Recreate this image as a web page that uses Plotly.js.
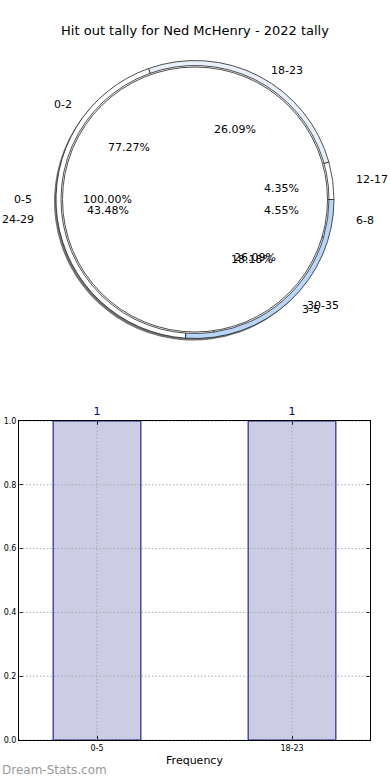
<!DOCTYPE html>
<html>
<head>
<meta charset="utf-8">
<script src="https://cdn.plot.ly/plotly-3.0.1.min.js"></script>
<style>html,body{margin:0;padding:0;background:#fff;}#chart{width:390px;height:780px;}</style>
</head>
<body>
<div id="chart"></div>
<script>
// ---- data ----
const chartTitle = 'Hit out tally for Ned McHenry - 2022 tally';
const pieALabels = ['0-5'];
const pieAValues = [1];
const pieBLabels = ['12-17', '18-23', '24-29', '30-35'];
const pieBValues = [1, 6, 10, 6];
const pieCLabels = ['0-2', '3-5', '6-8'];
const pieCValues = [17, 4, 1];
const barCategories = ['0-5', '18-23'];
const barValues = [1, 1];
const yTicks = [0, 0.2, 0.4, 0.6, 0.8, 1.0];

// ---- layout helpers ----
const W = 390, H = 780;
const cx = 195, cy = 199.5;
const rx = 146, ry = 132; // label ellipse (matches reference)
const px = x => x / W;
const py = y => 1 - y / H;
function pieDomain(r, ox, oy) {
  const X = cx + (ox || 0), Y = cy + (oy || 0);
  return { x: [px(X - r), px(X + r)], y: [py(Y + r), py(Y - r)] };
}
// Plotly counterclockwise pies put the first slice clockwise of `rotation`;
// shift so the first slice starts at 3 o'clock and runs counterclockwise.
function startRotation(values) {
  const total = values.reduce((a, b) => a + b, 0);
  return 90 - values[0] / total * 360;
}
const FONT = 'DejaVu Sans, sans-serif';
const annotations = [];
function pieLabels(labels, values) {
  const total = values.reduce((a, b) => a + b, 0);
  let start = 0;
  labels.forEach((lab, i) => {
    const frac = values[i] / total;
    const mid = (start + frac * 180) * Math.PI / 180;
    start += frac * 360;
    const c = Math.cos(mid), s = Math.sin(mid);
    annotations.push({
      xref: 'paper', yref: 'paper', showarrow: false,
      x: px(cx + 1.1 * rx * c), y: py(cy - 1.1 * ry * s),
      xanchor: c >= 0 ? 'left' : 'right', yanchor: 'middle',
      text: lab, font: { family: FONT, size: 11, color: '#000' }
    });
    annotations.push({
      xref: 'paper', yref: 'paper', showarrow: false,
      x: px(cx + 0.6 * rx * c), y: py(cy - 0.6 * ry * s),
      xanchor: 'center', yanchor: 'middle',
      text: (frac * 100).toFixed(2) + '%', font: { family: FONT, size: 11, color: '#000' }
    });
  });
}
pieLabels(pieALabels, pieAValues);
pieLabels(pieBLabels, pieBValues);
pieLabels(pieCLabels, pieCValues);

annotations.push({
  xref: 'paper', yref: 'paper', showarrow: false,
  x: 0, y: py(770), xanchor: 'left', yanchor: 'middle',
  text: 'Dream-Stats.com', font: { family: FONT, size: 12, color: '#9a9a9a' }
});

// dotted grid drawn above the bars, as in the reference
const gridLine = { color: '#aaaaaa', width: 1, dash: '1.5px,2px' };
const shapes = [];
yTicks.forEach(v => shapes.push({
  type: 'line', layer: 'above', xref: 'paper', yref: 'y',
  x0: px(19), x1: px(370), y0: v, y1: v, line: gridLine
}));
barCategories.forEach(c => shapes.push({
  type: 'line', layer: 'above', xref: 'x', yref: 'paper',
  x0: c, x1: c, y0: py(740), y1: py(421), line: gridLine
}));

const pieCommon = {
  type: 'pie', sort: false, direction: 'counterclockwise',
  textinfo: 'none', hoverinfo: 'none', showlegend: false
};

const traces = [
  Object.assign({}, pieCommon, {
    labels: pieBLabels, values: pieBValues, rotation: startRotation(pieBValues),
    domain: pieDomain(139, -2, 2),
    marker: { colors: pieBLabels.map(() => 'rgba(0,0,0,0.55)'), line: { width: 0 } }
  }),
  Object.assign({}, pieCommon, {
    labels: pieBLabels, values: pieBValues, rotation: startRotation(pieBValues),
    domain: pieDomain(139),
    marker: { colors: ['#ffffff', '#e9f0fc', '#ffffff', '#b8d5fa'], line: { color: '#222', width: 0.8 } }
  }),
  Object.assign({}, pieCommon, {
    labels: pieCLabels, values: pieCValues, rotation: startRotation(pieCValues),
    domain: pieDomain(134),
    marker: { colors: ['#ffffff', '#ffffff', '#ffffff'], line: { color: '#222', width: 0.8 } }
  }),
  Object.assign({}, pieCommon, {
    labels: pieALabels, values: pieAValues, rotation: startRotation(pieAValues),
    domain: pieDomain(132.5),
    marker: { colors: ['#ffffff'], line: { color: '#222', width: 0.8 } }
  }),
  {
    type: 'bar', x: barCategories, y: barValues, width: 0.45,
    xaxis: 'x', yaxis: 'y',
    marker: { color: '#ccccE5', line: { color: '#000080', width: 1 } },
    text: barValues.map(String), textposition: 'outside', cliponaxis: false,
    textfont: { family: FONT, size: 11, color: '#000080' },
    hoverinfo: 'none', showlegend: false
  }
];

const layout = {
  width: W, height: H,
  margin: { l: 0, r: 0, t: 0, b: 0 },
  paper_bgcolor: '#fff', plot_bgcolor: '#fff',
  font: { family: FONT, color: '#000' },
  title: { text: chartTitle, x: 0.5, xanchor: 'center', y: py(30), yanchor: 'middle',
           font: { family: FONT, size: 13, color: '#000' } },
  xaxis: {
    domain: [px(19), px(370)], anchor: 'y', type: 'category', range: [-0.4, 1.4],
    showline: true, linecolor: '#000', linewidth: 1, mirror: 'allticks',
    ticks: 'inside', ticklen: 4, tickcolor: '#000', showgrid: false,
    tickfont: { family: FONT, size: 8, color: '#000' },
    title: { text: 'Frequency', font: { family: FONT, size: 11, color: '#000' }, standoff: 4 },
    fixedrange: true
  },
  yaxis: {
    domain: [py(740), py(421)], anchor: 'x', range: [0, 1],
    tickvals: yTicks, tickformat: '.1f',
    showline: true, linecolor: '#000', linewidth: 1, mirror: 'allticks',
    ticks: 'inside', ticklen: 4, tickcolor: '#000', showgrid: false, zeroline: false,
    tickfont: { family: FONT, size: 8, color: '#000' },
    fixedrange: true
  },
  bargap: 0,
  shapes: shapes,
  annotations: annotations
};

Plotly.newPlot('chart', traces, layout, { staticPlot: true, displayModeBar: false });
</script>
</body>
</html>
